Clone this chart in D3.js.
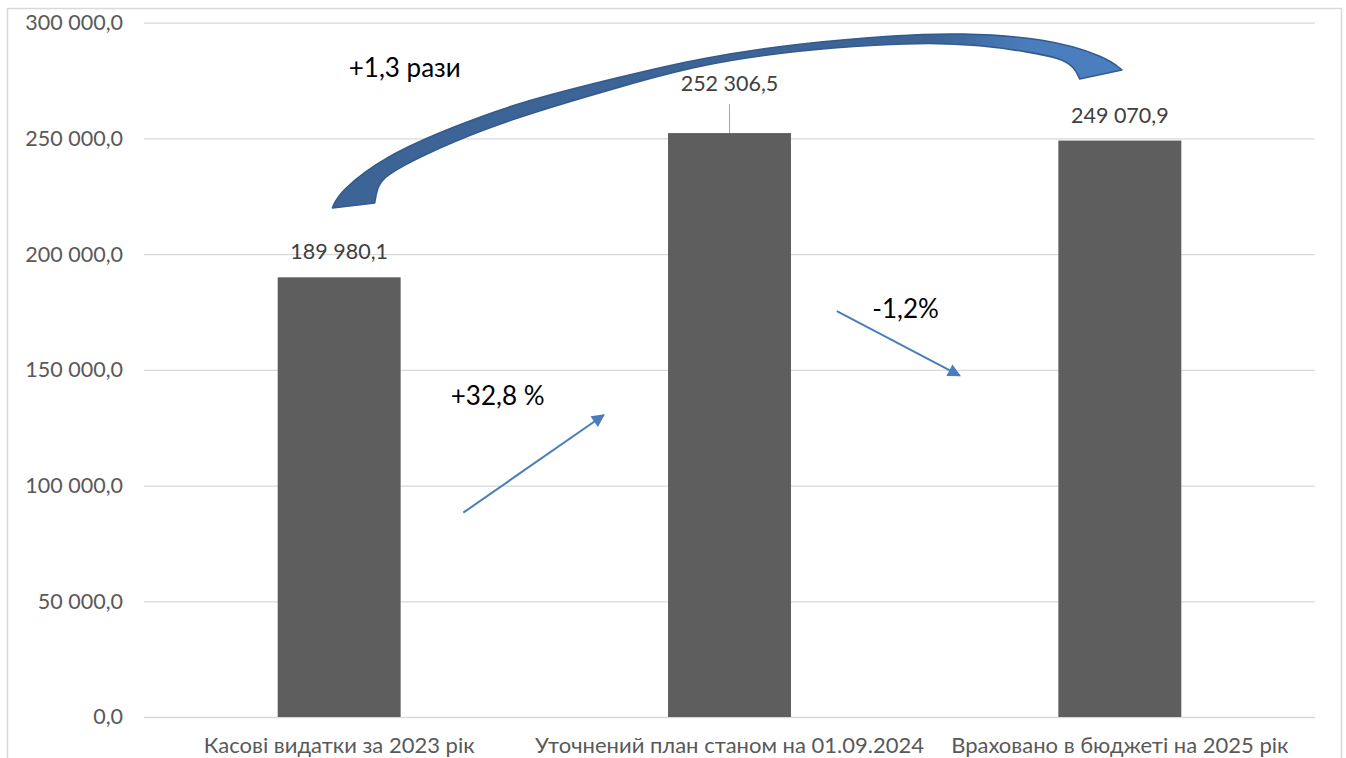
<!DOCTYPE html>
<html>
<head>
<meta charset="utf-8">
<script src="https://cdn.jsdelivr.net/npm/d3@7"></script>
<style>
    html, body { margin: 0; padding: 0; background: #ffffff; }
    text { font-family: Lato, "Noto Sans", sans-serif; }
</style>
</head>
<body>
<div id="chart"></div>
<script>
const categories = [
    'Касові видатки за 2023 рік',
    'Уточнений план станом на 01.09.2024',
    'Враховано в бюджеті на 2025 рік'
];
const values = [189980.1, 252306.5, 249070.9];
const yTicks = [0, 50000, 100000, 150000, 200000, 250000, 300000];

// annotation texts, placed in chart space: u = category index, v = value
const noteLabels = ['+1,3 рази', '+32,8 %', '-1,2%'];
const noteAnchors = [[0.168, 276500], [0.406, 135000], [1.451, 172500]];
const arrowFrom = [[0.318, 88300], [1.275, 175400]];
const arrowTo = [[0.678, 130500], [1.590, 147500]];

// big curved arrow, outer edge (left tip -> right tip) and inner edge (right -> left)
const bendOuter = [
    [-0.017, 220000], [0.000, 227000], [0.122, 242800], [0.291, 254900], [0.462, 265700],
    [0.719, 276500], [0.924, 284700], [1.180, 291200], [1.436, 294700], [1.585, 295600],
    [1.813, 293400], [1.966, 285200], [2.005, 279600]
];
const bendInner = [
    [1.897, 275700], [1.884, 280900], [1.846, 284700], [1.769, 287300], [1.641, 290400],
    [1.513, 291400], [1.385, 290500], [1.180, 288200], [0.924, 282000], [0.719, 272300],
    [0.506, 261800], [0.334, 251800], [0.173, 239400], [0.111, 232900], [0.096, 227700],
    [0.091, 222100]
];

const width = 1346;
const height = 758;
const plot = { left: 144, right: 1315, top: 22.7, bottom: 717 };

const uaLocale = d3.formatLocale({ decimal: ',', thousands: '\u00a0', grouping: [3], currency: ['', ''] });
const fmt = uaLocale.format(',.1f');

const svg = d3.select('#chart')
    .append('svg')
    .attr('width', width)
    .attr('height', height);

// outer chart frame
svg.append('rect')
    .attr('x', 7.5)
    .attr('y', 8.5)
    .attr('width', 1334)
    .attr('height', 770)
    .attr('fill', 'none')
    .attr('stroke', '#d9d9d9')
    .attr('stroke-width', 1.5);

const x = d3.scaleBand()
    .domain(categories)
    .range([plot.left, plot.right])
    .paddingInner(0.685)
    .paddingOuter(0.3425);

const y = d3.scaleLinear()
    .domain([0, 300000])
    .range([plot.bottom, plot.top]);

const u = d3.scaleLinear()
    .domain([0, 2])
    .range([x(categories[0]) + x.bandwidth() / 2, x(categories[2]) + x.bandwidth() / 2]);

// gridlines + y labels
const yAxis = svg.append('g')
    .attr('transform', `translate(${plot.left},0)`)
    .call(d3.axisLeft(y).tickValues(yTicks).tickSize(-(plot.right - plot.left)).tickPadding(21).tickFormat(fmt));

yAxis.select('.domain').remove();
yAxis.selectAll('.tick line')
    .attr('stroke', '#d9d9d9')
    .attr('stroke-width', 1.3);
yAxis.selectAll('.tick text')
    .attr('fill', '#595959')
    .attr('font-size', 21.5);

// bars
svg.append('g')
    .selectAll('rect')
    .data(values)
    .enter().append('rect')
    .attr('x', (d, i) => x(categories[i]))
    .attr('y', d => y(d))
    .attr('width', x.bandwidth())
    .attr('height', d => y(0) - y(d))
    .attr('fill', '#5e5e5e');

// data labels (middle one is lifted with a leader line)
const lift = [0, 24, 0];
values.forEach((d, i) => {
    const cx = x(categories[i]) + x.bandwidth() / 2;
    if (lift[i] > 0) {
        svg.append('line')
            .attr('x1', cx).attr('x2', cx)
            .attr('y1', y(d))
            .attr('y2', y(d) - 29)
            .attr('stroke', '#a6a6a6')
            .attr('stroke-width', 1);
    }
    svg.append('text')
        .attr('x', cx)
        .attr('y', y(d) - 18 - lift[i])
        .attr('text-anchor', 'middle')
        .attr('fill', '#404040')
        .attr('font-size', 21.5)
        .text(fmt(d));
});

// category labels
svg.append('g')
    .selectAll('text')
    .data(categories)
    .enter().append('text')
    .attr('x', d => x(d) + x.bandwidth() / 2)
    .attr('y', 753)
    .attr('text-anchor', 'middle')
    .attr('fill', '#595959')
    .attr('font-size', 22)
    .text(d => d);

// curved "+1,3" arrow
const defs = svg.append('defs');
const grad = defs.append('linearGradient')
    .attr('id', 'bendFill')
    .attr('gradientUnits', 'userSpaceOnUse')
    .attr('x1', u(0)).attr('x2', u(2.01))
    .attr('y1', 0).attr('y2', 0);
grad.append('stop').attr('offset', '0%').attr('stop-color', '#3c6497');
grad.append('stop').attr('offset', '76%').attr('stop-color', '#3c6497');
grad.append('stop').attr('offset', '88%').attr('stop-color', '#4a7dbd');
grad.append('stop').attr('offset', '100%').attr('stop-color', '#4b7fc0');

const edge = d3.line()
    .x(d => u(d[0]))
    .y(d => y(d[1]))
    .curve(d3.curveBasis);

const bendPath = edge(bendOuter) + edge(bendInner).replace(/^M/, 'L') + 'Z';
svg.append('path')
    .attr('d', bendPath)
    .attr('fill', 'url(#bendFill)')
    .attr('stroke', '#345b8c')
    .attr('stroke-width', 1.6)
    .attr('stroke-linejoin', 'round');

// straight arrows
defs.append('marker')
    .attr('id', 'head')
    .attr('viewBox', '0 0 10 10')
    .attr('refX', 9)
    .attr('refY', 5)
    .attr('markerUnits', 'userSpaceOnUse')
    .attr('markerWidth', 15)
    .attr('markerHeight', 13)
    .attr('orient', 'auto')
    .append('path')
    .attr('d', 'M0,0 L10,5 L0,10 Z')
    .attr('fill', '#4a7ebb');

arrowFrom.forEach((p, i) => {
    svg.append('line')
        .attr('x1', u(p[0]))
        .attr('y1', y(p[1]))
        .attr('x2', u(arrowTo[i][0]))
        .attr('y2', y(arrowTo[i][1]))
        .attr('stroke', '#4a7ebb')
        .attr('stroke-width', 2)
        .attr('marker-end', 'url(#head)');
});

// annotation texts
svg.append('g')
    .selectAll('text')
    .data(noteLabels)
    .enter().append('text')
    .attr('x', (d, i) => u(noteAnchors[i][0]))
    .attr('y', (d, i) => y(noteAnchors[i][1]))
    .attr('text-anchor', 'middle')
    .attr('fill', '#000000')
    .attr('font-size', 26)
    .text(d => d);
</script>
</body>
</html>
